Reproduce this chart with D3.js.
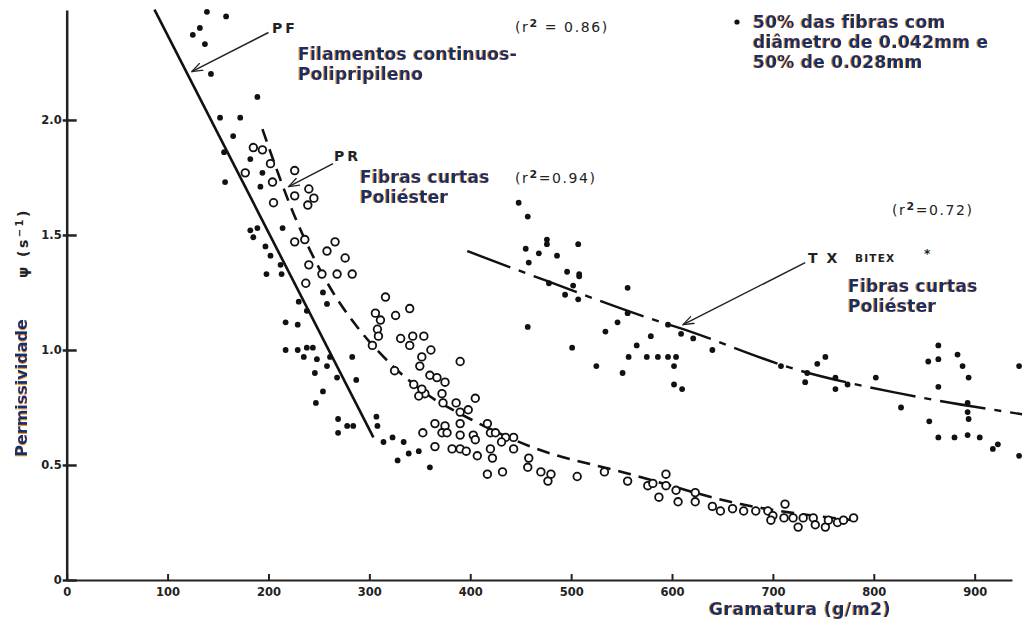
<!DOCTYPE html>
<html>
<head>
<meta charset="utf-8">
<script src="https://cdn.jsdelivr.net/npm/d3@7"></script>
<style>
  html, body { margin: 0; padding: 0; background: #fff; }
  svg { display: block; }
  .tick text { font-family: "DejaVu Sans", sans-serif; font-weight: bold; font-size: 11.5px; fill: #222; }
  .note { font-family: "DejaVu Sans", sans-serif; font-weight: bold; fill: #10306e; }
  .old { font-family: "DejaVu Sans", sans-serif; fill: #222; }
</style>
</head>
<body>
<svg id="chart" width="1022" height="625"></svg>
<script>
// pontos: [gramatura g/m2, permissividade s-1]
const pfPoints = [
  [139,2.47],[158,2.45],[132,2.40],[125,2.37],[137,2.33],[143,2.20],[189,2.10],[152,2.01],
  [172,2.01],[165,1.93],[156,1.86],[157,1.73],[182,1.83],[194,1.77],[192,1.71],[214,1.53],
  [182,1.52],[189,1.53],[185,1.49],[197,1.45],[202,1.41],[212,1.37],[198,1.33],[213,1.33],
  [254,1.25],[258,1.20],[230,1.21],[238,1.17],[217,1.12],[229,1.11],[217,1.00],[229,1.00],
  [238,1.01],[244,1.01],[235,0.97],[248,0.96],[261,0.97],[258,0.93],[283,0.97],[246,0.90],
  [268,0.88],[287,0.87],[254,0.82],[247,0.77],[269,0.70],[269,0.64],[278,0.67],[284,0.67],
  [307,0.71],[308,0.67],[314,0.60],[323,0.62],[328,0.52],[334,0.60],[339,0.55],[349,0.56],
  [360,0.49]
];

const prPoints = [
  [185,1.88],[194,1.87],[202,1.81],[177,1.77],[204,1.73],[226,1.78],[240,1.70],[226,1.67],
  [245,1.66],[239,1.63],[205,1.64],[226,1.47],[236,1.48],[258,1.43],[266,1.47],[276,1.40],
  [240,1.37],[253,1.33],[268,1.33],[283,1.33],[237,1.29],[316,1.23],[306,1.16],[311,1.13],
  [326,1.15],[340,1.18],[308,1.09],[309,1.06],[303,1.02],[331,1.05],[343,1.06],[354,1.06],
  [340,1.02],[361,1.00],[352,0.97],[350,0.93],[360,0.89],[367,0.88],[325,0.91],[344,0.85],
  [355,0.81],[349,0.80],[390,0.95],[375,0.86],[352,0.83],[372,0.81],[373,0.77],[405,0.79],
  [386,0.77],[390,0.73],[398,0.74],[365,0.68],[375,0.67],[372,0.64],[353,0.64],[390,0.68],
  [377,0.64],[390,0.63],[403,0.63],[405,0.61],[417,0.68],[420,0.64],[425,0.64],[435,0.62],
  [443,0.62],[431,0.60],[443,0.57],[365,0.58],[382,0.57],[390,0.57],[396,0.56],[407,0.54],
  [420,0.57],[422,0.53],[417,0.46],[432,0.47],[458,0.53],[457,0.49],[470,0.47],[480,0.46],
  [477,0.43],[506,0.45],[533,0.47],[556,0.43],[576,0.41],[581,0.42],[587,0.36],[594,0.46],
  [594,0.41],[604,0.39],[606,0.34],[623,0.38],[623,0.34],[640,0.32],[648,0.30],[660,0.31],
  [671,0.30],[683,0.30],[695,0.30],[700,0.28],[698,0.26],[712,0.33],[711,0.27],[720,0.27],
  [725,0.23],[730,0.27],[740,0.27],[742,0.24],[752,0.23],[755,0.26],[764,0.25],[770,0.26],
  [780,0.27]
];

const txPoints = [
  [448,1.64],[457,1.58],[476,1.48],[476,1.46],[455,1.44],[468,1.42],[486,1.41],[507,1.46],
  [458,1.38],[496,1.34],[508,1.33],[508,1.32],[478,1.29],[502,1.28],[494,1.24],[507,1.22],
  [556,1.27],[457,1.10],[556,1.16],[546,1.12],[596,1.11],[609,1.07],[534,1.08],[579,1.06],
  [621,1.05],[565,1.02],[640,1.00],[501,1.01],[557,0.97],[575,0.97],[586,0.97],[596,0.97],
  [604,0.97],[602,0.93],[525,0.93],[551,0.90],[602,0.85],[610,0.83],[708,0.93],[732,0.86],
  [744,0.94],[752,0.97],[734,0.90],[762,0.88],[762,0.83],[774,0.85],[802,0.88],[827,0.75],
  [855,0.69],[864,0.62],[880,0.62],[893,0.63],[905,0.62],[864,0.84],[864,0.96],[854,0.95],
  [864,1.02],[883,0.98],[888,0.93],[894,0.88],[893,0.77],[893,0.73],[894,0.70],[918,0.57],
  [923,0.59],[944,0.93],[944,0.54]
];

// curvas de ajuste
const pfFit = [[87,2.48],[304,0.62]];
const prFit = [[194,1.96],[228,1.56],[264,1.25],[288,1.10],[321,0.94],[353,0.82],[400,0.70],
               [460,0.58],[559,0.46],[668,0.33],[780,0.26]];
const txFit = [[397,1.43],[476,1.30],[576,1.14],[608,1.095],[727,0.91],[827,0.81],[948,0.72]];

const xTicks = [0,100,200,300,400,500,600,700,800,900];
const yTicks = [0,0.5,1.0,1.5,2.0];

const svg = d3.select('#chart');
const x = d3.scaleLinear().domain([0, 937]).range([66.7, 1012]);
const y = d3.scaleLinear().domain([0, 2.478]).range([580, 10]);

// sombra laranja dos textos azuis
const defs = svg.append('defs');
const f = defs.append('filter').attr('id', 'fringe').attr('x', '-5%').attr('y', '-20%').attr('width', '110%').attr('height', '140%');
f.append('feOffset').attr('in', 'SourceAlpha').attr('dx', -1).attr('dy', -0.5).attr('result', 'off');
f.append('feFlood').attr('flood-color', '#f39200').attr('result', 'col');
f.append('feComposite').attr('in', 'col').attr('in2', 'off').attr('operator', 'in').attr('result', 'sh');
const fm = f.append('feMerge');
fm.append('feMergeNode').attr('in', 'sh');
fm.append('feMergeNode').attr('in', 'SourceGraphic');

defs.append('marker')
    .attr('id', 'arrow').attr('viewBox', '0 0 12 10').attr('refX', 11).attr('refY', 5)
    .attr('markerWidth', 12).attr('markerHeight', 10).attr('markerUnits', 'userSpaceOnUse')
    .attr('orient', 'auto')
  .append('path').attr('d', 'M0,1 L11,5 L0,9').attr('fill', 'none').attr('stroke', '#222').attr('stroke-width', 1.3);

// eixos
const xAxis = d3.axisBottom(x).tickValues(xTicks).tickSizeInner(-6).tickSizeOuter(0).tickPadding(8)
    .tickFormat(d3.format('d'));
svg.append('g').attr('transform', 'translate(0,580)').call(xAxis)
   .call(g => g.select('.domain').attr('stroke', '#222').attr('stroke-width', 2))
   .call(g => g.selectAll('.tick line').attr('stroke', '#222').attr('stroke-width', 2));

const yAxis = d3.axisLeft(y).tickValues(yTicks).tickSizeInner(-10).tickSizeOuter(0).tickPadding(5)
    .tickFormat(d => d === 0 ? '0' : d3.format('.1f')(d));
svg.append('g').attr('transform', 'translate(66.7,0)').call(yAxis)
   .call(g => g.select('.domain').attr('stroke', '#222').attr('stroke-width', 2.5))
   .call(g => g.selectAll('.tick line').attr('stroke', '#222').attr('stroke-width', 2.5).attr('x1', -4));

// curvas
const line = d3.line().x(d => x(d[0])).y(d => y(d[1])).curve(d3.curveMonotoneX);
svg.append('path').datum(pfFit).attr('d', line)
   .attr('fill', 'none').attr('stroke', '#111').attr('stroke-width', 2.6);
svg.append('path').datum(prFit).attr('d', line)
   .attr('fill', 'none').attr('stroke', '#111').attr('stroke-width', 2.6).attr('stroke-dasharray', '13,8');
svg.append('path').datum(txFit).attr('d', line)
   .attr('fill', 'none').attr('stroke', '#111').attr('stroke-width', 2.4).attr('stroke-dasharray', '46,9,7,9');

// pontos
svg.append('g').selectAll('circle').data(prPoints).join('circle')
   .attr('cx', d => x(d[0])).attr('cy', d => y(d[1])).attr('r', 3.8)
   .attr('fill', '#fff').attr('stroke', '#111').attr('stroke-width', 1.8);
svg.append('g').selectAll('circle').data(pfPoints.concat(txPoints)).join('circle')
   .attr('cx', d => x(d[0])).attr('cy', d => y(d[1])).attr('r', 2.9).attr('fill', '#111');

// setas
const arrows = [
  [[200,2.38],[124,2.21]],
  [[264,1.81],[220,1.71]],
  [[732,1.38],[611,1.11]]
];
svg.append('g').selectAll('line').data(arrows).join('line')
   .attr('x1', d => x(d[0][0])).attr('y1', d => y(d[0][1]))
   .attr('x2', d => x(d[1][0])).attr('y2', d => y(d[1][1]))
   .attr('stroke', '#222').attr('stroke-width', 1.5).attr('marker-end', 'url(#arrow)');

// textos antigos (pretos)
function oldText(tx, ty, str, size, spacing) {
  return svg.append('text').attr('class', 'old').attr('x', tx).attr('y', ty)
    .attr('font-size', size).attr('letter-spacing', spacing || 0).text(str);
}
oldText(272, 33, 'PF', 14, 3).attr('font-weight', 'bold');
oldText(334, 161, 'PR', 14, 3).attr('font-weight', 'bold');
oldText(808, 263, 'T X', 14, 2).attr('font-weight', 'bold');
oldText(855, 262, 'BITEX', 10.5, 1.2).attr('font-weight', 'bold');
oldText(924, 258, '*', 12, 0).attr('font-weight', 'bold');

function rText(tx, ty, val) {
  const t = svg.append('text').attr('class', 'old').attr('x', tx).attr('y', ty)
    .attr('font-size', 14).attr('letter-spacing', 1.6);
  t.append('tspan').text('(r');
  t.append('tspan').attr('dy', -5).attr('font-size', 11).attr('font-weight', 'bold').text('2');
  t.append('tspan').attr('dy', 5).text(val);
}
rText(515, 32, ' = 0.86)');
rText(515, 183, '=0.94)');
rText(892, 215, '=0.72)');

// psi (s^-1) vertical
const psi = svg.append('text').attr('class', 'old').attr('transform', 'translate(28,243) rotate(-90)')
   .attr('text-anchor', 'middle').attr('font-size', 14).attr('letter-spacing', 2.5).attr('font-weight', 'bold');
psi.append('tspan').text('ψ (s');
psi.append('tspan').attr('dy', -5).attr('font-size', 10).text('−1');
psi.append('tspan').attr('dy', 5).text(')');

// textos azuis
function note(tx, ty, lines, size) {
  const t = svg.append('text').attr('class', 'note').attr('filter', 'url(#fringe)')
    .attr('x', tx).attr('y', ty).attr('font-size', size).attr('letter-spacing', 0.3);
  lines.forEach((s, i) => t.append('tspan').attr('x', tx).attr('dy', i ? 20 : 0).text(s));
  return t;
}
note(298, 60, ['Filamentos continuos-', 'Polipripileno'], 17);
note(360, 183, ['Fibras curtas', 'Poliéster'], 17);
note(848, 292, ['Fibras curtas', 'Poliéster'], 17);
note(753, 28, ['50% das fibras com', 'diâmetro de 0.042mm e', '50% de 0.028mm'], 17);
svg.append('circle').attr('cx', 737).attr('cy', 22).attr('r', 2.6).attr('fill', '#111');

svg.append('text').attr('class', 'note').attr('filter', 'url(#fringe)')
   .attr('x', 800).attr('y', 615).attr('text-anchor', 'middle').attr('font-size', 17)
   .attr('letter-spacing', 0.6).text('Gramatura (g/m2)');
svg.append('text').attr('class', 'note').attr('filter', 'url(#fringe)')
   .attr('transform', 'translate(27,388) rotate(-90)').attr('text-anchor', 'middle').attr('font-size', 16)
   .text('Permissividade');
</script>
</body>
</html>
